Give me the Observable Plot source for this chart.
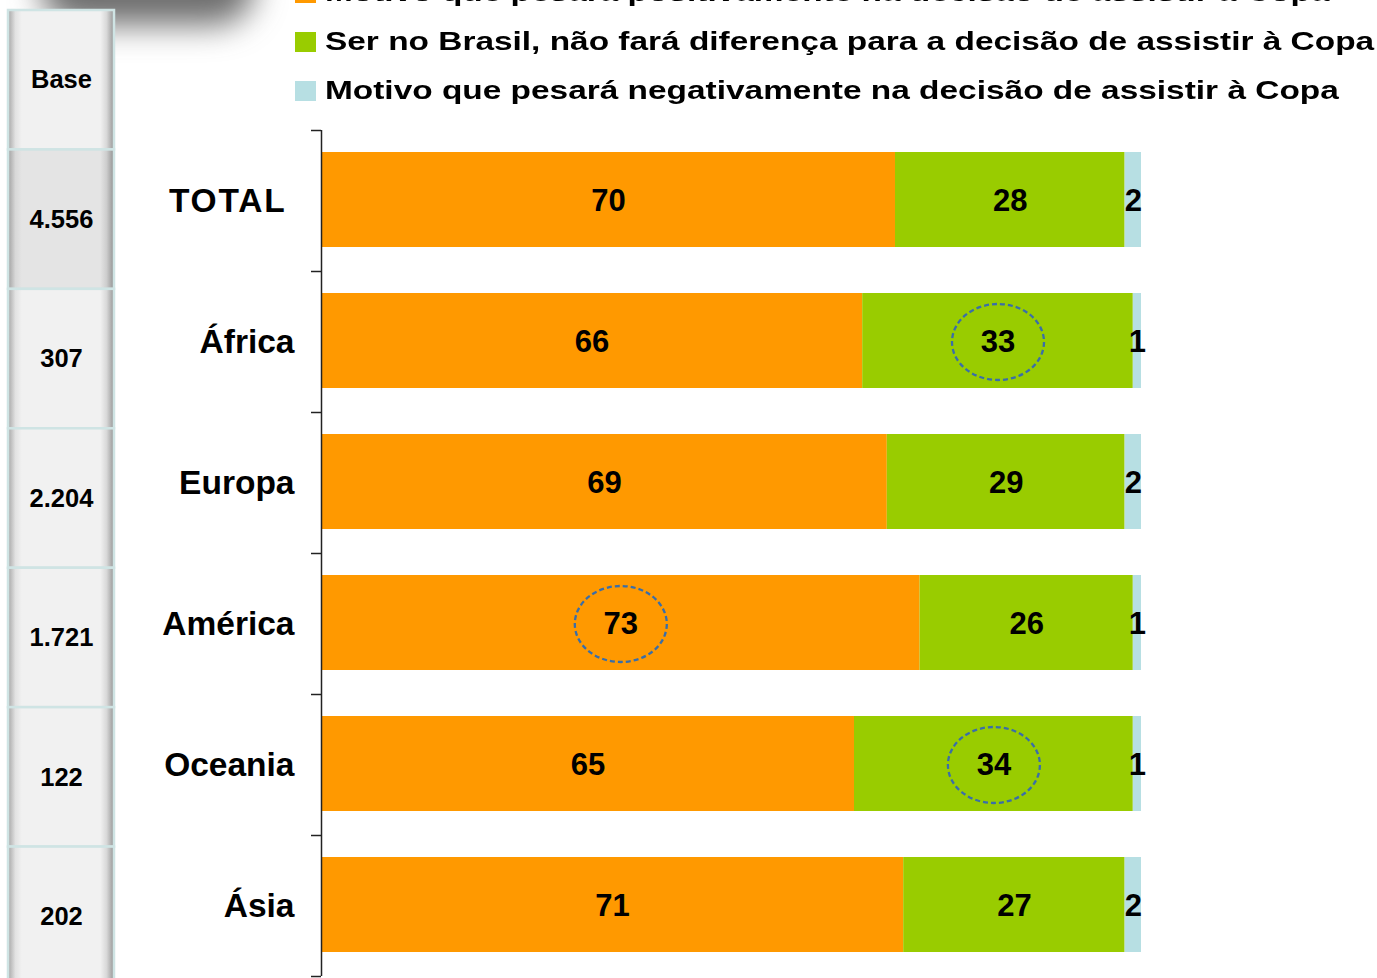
<!DOCTYPE html>
<html>
<head>
<meta charset="utf-8">
<script src="https://cdn.jsdelivr.net/npm/d3@7"></script>
<script src="https://cdn.jsdelivr.net/npm/@observablehq/plot@0.6"></script>
<style>
  html, body { margin: 0; padding: 0; background: #fff; overflow: hidden; }
  body { width: 1377px; height: 978px; position: relative; font-family: Arial, "Liberation Sans", sans-serif; }
  #shadow { position: absolute; left: 40px; top: -55px; width: 215px; height: 80px; background: rgba(60,60,60,0.75); filter: blur(16px); border-radius: 40px; }
  #base { position: absolute; left: 8px; top: 10px; }
  #chart { position: absolute; left: 0; top: 0; }
  #legend { position: absolute; left: 295px; top: -32px; }
  .item { display: flex; align-items: center; height: 49px; }
  .sw { width: 21px; height: 20px; margin-right: 9px; flex: none; }
  .lt { font-weight: bold; font-size: 26px; color: #000; white-space: nowrap; transform: scaleX(1.285); transform-origin: left center; }
</style>
</head>
<body>
<svg width="0" height="0" style="position:absolute">
  <defs>
    <linearGradient id="gLight" x1="0" x2="1" y1="0" y2="0">
      <stop offset="0" stop-color="#a6a6a6"/>
      <stop offset="0.07" stop-color="#e2e2e2"/>
      <stop offset="0.13" stop-color="#f1f1f1"/>
      <stop offset="0.87" stop-color="#f1f1f1"/>
      <stop offset="0.93" stop-color="#d8d8d8"/>
      <stop offset="1" stop-color="#959595"/>
    </linearGradient>
    <linearGradient id="gDark" x1="0" x2="1" y1="0" y2="0">
      <stop offset="0" stop-color="#a0a0a0"/>
      <stop offset="0.07" stop-color="#d8d8d8"/>
      <stop offset="0.13" stop-color="#e4e4e4"/>
      <stop offset="0.87" stop-color="#e4e4e4"/>
      <stop offset="0.93" stop-color="#cdcdcd"/>
      <stop offset="1" stop-color="#909090"/>
    </linearGradient>
  </defs>
</svg>
<div id="shadow"></div>
<div id="base"></div>
<div id="chart"></div>
<div id="legend"></div>
<script>
const categories = ["TOTAL", "África", "Europa", "América", "Oceania", "Ásia"];
const bases = ["4.556", "307", "2.204", "1.721", "122", "202"];
const baseHeader = "Base";
const seriesNames = [
  "Motivo que pesará positivamente na decisão de assistir à Copa",
  "Ser no Brasil, não fará diferença para a decisão de assistir à Copa",
  "Motivo que pesará negativamente na decisão de assistir à Copa"
];
const positivo = [70, 66, 69, 73, 65, 71];
const indiferente = [28, 33, 29, 26, 34, 27];
const negativo = [2, 1, 2, 1, 1, 2];
const colors = ["#ff9900", "#99cc00", "#b7dfe3"];
const highlights = [
  {category: "África", series: 1},
  {category: "América", series: 0},
  {category: "Oceania", series: 1}
];

// build stacked table
const seriesValues = [positivo, indiferente, negativo];
const rows = [];
categories.forEach((c, i) => {
  let acc = 0;
  seriesValues.forEach((vals, s) => {
    rows.push({category: c, i, series: seriesNames[s], s, value: vals[i], x1: acc, x2: acc + vals[i]});
    acc += vals[i];
  });
});
const hl = highlights.map(h => rows.find(r => r.category === h.category && r.s === h.series));

const chart = Plot.plot({
  width: 1377, height: 978,
  marginTop: 130, marginBottom: 2, marginLeft: 321, marginRight: 236,
  style: {color: "#000", fontFamily: "Arial, 'Liberation Sans', sans-serif", background: "transparent"},
  x: {domain: [0, 100], axis: null},
  y: {domain: [0, 6], reverse: true, axis: null},
  color: {domain: seriesNames, range: colors},
  marks: [
    Plot.rect(rows, {x1: "x1", x2: "x2", y1: "i", y2: d => d.i + 1, fill: "series", insetTop: 22, insetBottom: 24}),
    Plot.text(rows, {x: d => (d.x1 + d.x2) / 2, y: d => d.i + 0.5, text: d => String(d.value), fontSize: 31, fontWeight: "bold", fill: "#000"}),
    Plot.dot(hl, {x: d => (d.x1 + d.x2) / 2, y: d => d.i + 0.5, r: 38, stroke: "#3a6ea8", strokeWidth: 2.3, strokeDasharray: "5,3", fill: "none"}),
    Plot.ruleX([0], {stroke: "#222", strokeWidth: 1.5}),
    Plot.axisY({ticks: d3.range(categories.length + 1), tickSize: 10, tickFormat: () => "", stroke: "#222", strokeWidth: 1.5, label: null}),
    Plot.axisY({ticks: categories.map((_, i) => i + 0.5), tickSize: 0, tickPadding: 27, tickFormat: v => categories[Math.floor(v)], fontSize: 33.5, fontWeight: "bold", fill: "#000", label: null})
  ]
});

// convert highlight circles to ellipses
chart.querySelectorAll('g[aria-label="dot"] circle').forEach(c => {
  let cx = +c.getAttribute("cx") || 0, cy = +c.getAttribute("cy") || 0;
  const t = c.getAttribute("transform");
  if (t) { const m = t.match(/translate\(([-\d.]+)[,\s]+([-\d.]+)\)/); if (m) { cx += +m[1]; cy += +m[2]; } }
  const e = document.createElementNS("http://www.w3.org/2000/svg", "ellipse");
  e.setAttribute("cx", cx); e.setAttribute("cy", cy);
  e.setAttribute("rx", 46); e.setAttribute("ry", 38);
  e.setAttribute("fill", "none"); e.setAttribute("stroke", "#3a6ea8");
  e.setAttribute("stroke-width", 2.3); e.setAttribute("stroke-dasharray", "5,3");
  c.replaceWith(e);
});
// TOTAL label is tracked wider in the original
chart.querySelectorAll('g[aria-label="y-axis tick label"] text').forEach(t => {
  if (t.textContent === "TOTAL") { t.style.letterSpacing = "1.8px"; t.setAttribute("dx", "-8"); }
});
document.getElementById("chart").appendChild(chart);

// base column
const baseRows = [baseHeader, ...bases].map((t, i) => ({t, i}));
const basePlot = Plot.plot({
  width: 106, height: 976, margin: 0,
  style: {color: "#000", fontFamily: "Arial, 'Liberation Sans', sans-serif", background: "transparent", overflow: "visible"},
  x: {axis: null},
  y: {domain: [0, 7], reverse: true, axis: null},
  marks: [
    Plot.rect(baseRows, {y1: "i", y2: d => d.i + 1, fill: d => d.i === 1 ? "url(#gDark)" : "url(#gLight)", stroke: "#cfe4e4", strokeWidth: 2.5}),
    Plot.text(baseRows, {y: d => d.i + 0.5, text: "t", fontSize: 25.5, fontWeight: "bold", fill: "#000"})
  ]
});
document.getElementById("base").appendChild(basePlot);

// legend
const lg = d3.select("#legend");
seriesNames.forEach((n, i) => {
  const it = lg.append("div").attr("class", "item");
  it.append("div").attr("class", "sw").style("background", colors[i]);
  it.append("div").attr("class", "lt").text(n);
});
</script>
</body>
</html>
